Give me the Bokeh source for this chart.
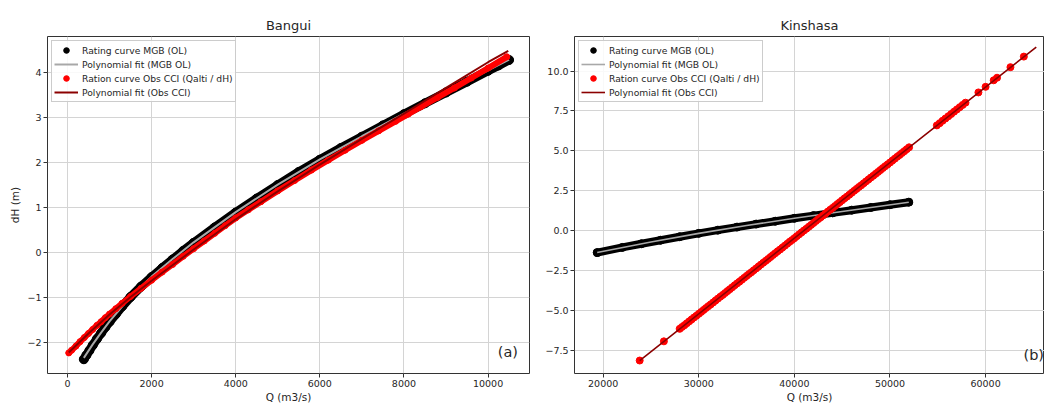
from bokeh.plotting import figure
from bokeh.layouts import row
from bokeh.models import Range1d, FixedTicker, CustomJSTickFormatter, Legend, LegendItem, Label
from bokeh.embed import file_html
from bokeh.resources import INLINE

FONT = "DejaVu Sans"

# ---------------- Bangui (a) ----------------
bangui_mgb_q = [389, 450, 520, 600, 700, 800, 900, 1000, 1150, 1300, 1500, 1750, 2000, 2250,
                2500, 2750, 3000, 3500, 4000, 4500, 5000, 5500, 6000, 6500, 7000, 7500, 8000,
                8500, 9000, 9500, 10000, 10250, 10500]
bangui_mgb_dh = [-2.36, -2.27, -2.17, -2.05, -1.91, -1.78, -1.65, -1.53, -1.36, -1.19, -0.98,
                 -0.75, -0.54, -0.34, -0.15, 0.04, 0.22, 0.56, 0.89, 1.20, 1.50, 1.79, 2.06,
                 2.32, 2.57, 2.82, 3.07, 3.31, 3.55, 3.79, 4.03, 4.15, 4.27]
bangui_mgb_fit_q = [389, 600, 800, 1000, 1500, 2000, 2500, 3000, 4000, 5000, 6000, 7000, 8000,
                    9000, 10000, 10500]
bangui_mgb_fit_dh = [-2.33, -2.03, -1.77, -1.52, -0.97, -0.53, -0.14, 0.23, 0.90, 1.51, 2.07,
                     2.58, 3.08, 3.56, 4.04, 4.28]
bangui_cci_q = [31, 100, 200, 300, 400, 500, 600, 700, 800, 900, 1000, 1150, 1300, 1500, 1750,
                2000, 2250, 2500, 2750, 3000, 3250, 3500, 3750, 4000, 4300, 4600, 5000, 5400,
                5800, 6200, 6600, 7000, 7400, 7800, 8100, 8400, 8800, 9200, 9600, 10000, 10445]
bangui_cci_dh = [-2.22, -2.16, -2.07, -1.97, -1.88, -1.79, -1.70, -1.61, -1.53, -1.44, -1.36,
                 -1.24, -1.12, -0.97, -0.79, -0.61, -0.43, -0.26, -0.08, 0.09, 0.26, 0.43, 0.60,
                 0.77, 0.95, 1.13, 1.37, 1.60, 1.83, 2.05, 2.27, 2.49, 2.70, 2.91, 3.07, 3.23,
                 3.44, 3.65, 3.87, 4.09, 4.34]
bangui_cci_fit_q = [31, 500, 1000, 1500, 2000, 3000, 4000, 5000, 6000, 7000, 8000, 9000, 10000, 10480]
bangui_cci_fit_dh = [-2.21, -1.79, -1.37, -0.98, -0.62, 0.07, 0.74, 1.36, 1.95, 2.52, 3.08, 3.65,
                     4.22, 4.47]

# ---------------- Kinshasa (b) ----------------
kin_mgb_q = [19372, 22000, 24000, 26000, 28000, 30000, 32000, 34000, 36000, 38000, 40000,
             42000, 44000, 46000, 48000, 50000, 51967]
kin_mgb_dh = [-1.35, -1.03, -0.80, -0.58, -0.36, -0.15, 0.05, 0.24, 0.43, 0.61, 0.79, 0.96,
              1.13, 1.30, 1.47, 1.64, 1.80]
kin_mgb_fit_q = [19372, 25000, 30000, 35000, 40000, 45000, 51967]
kin_mgb_fit_dh = [-1.35, -0.69, -0.15, 0.34, 0.79, 1.22, 1.80]
kin_cci_q = [23820, 26350,
             28000, 28250, 28500, 28750, 29000, 29250, 29500, 29750, 30000, 30250, 30500, 30750,
             31000, 31250, 31500, 31750, 32000, 32250, 32500, 32750, 33000, 33250, 33500, 33750,
             34000, 34250, 34500, 34750, 35000, 35250, 35500, 35750, 36000, 36250, 36500, 36750,
             37000, 37250, 37500, 37750, 38000, 38250, 38500, 38750, 39000, 39250, 39500, 39750,
             40000, 40250, 40500, 40750, 41000, 41250, 41500, 41750, 42000, 42250, 42500, 42750,
             43000, 43250, 43500, 43750, 44000, 44250, 44500, 44750, 45000, 45250, 45500, 45750,
             46000, 46250, 46500, 46750, 47000, 47250, 47500, 47750, 48000, 48250, 48500, 48750,
             49000, 49250, 49500, 49750, 50000, 50250, 50500, 50750, 51000, 51250, 51500, 51750,
             52000,
             54900, 55200, 55500, 55800, 56100, 56400, 56700, 57000, 57300, 57600, 57900,
             59250, 60000, 60850, 61200, 62600, 64000]
kin_cci_dh = [-8.10, -6.90,
              -6.12, -6.00, -5.89, -5.77, -5.65, -5.53, -5.41, -5.30, -5.18, -5.06, -4.94, -4.82,
              -4.70, -4.59, -4.47, -4.35, -4.23, -4.11, -4.00, -3.88, -3.76, -3.64, -3.52, -3.40,
              -3.28, -3.17, -3.05, -2.93, -2.81, -2.69, -2.58, -2.46, -2.34, -2.22, -2.10, -1.98,
              -1.87, -1.75, -1.63, -1.51, -1.39, -1.27, -1.16, -1.04, -0.92, -0.80, -0.68, -0.57,
              -0.45, -0.33, -0.21, -0.09, 0.03, 0.14, 0.26, 0.38, 0.50, 0.62, 0.74, 0.85,
              0.97, 1.09, 1.21, 1.33, 1.44, 1.56, 1.68, 1.80, 1.92, 2.04, 2.15, 2.27,
              2.39, 2.51, 2.63, 2.75, 2.86, 2.98, 3.10, 3.22, 3.34, 3.45, 3.57, 3.69,
              3.81, 3.93, 4.05, 4.16, 4.28, 4.40, 4.52, 4.64, 4.75, 4.87, 4.99, 5.11,
              5.23,
              6.60, 6.74, 6.89, 7.03, 7.17, 7.31, 7.46, 7.60, 7.74, 7.88, 8.02,
              8.66, 9.01, 9.42, 9.58, 10.24, 10.90]
kin_cci_fit_q = [23820, 44000, 65300]
kin_cci_fit_dh = [-8.10, 1.44, 11.50]

# ticks
xticks_a = [0, 2000, 4000, 6000, 8000, 10000]
yticks_a = [-2, -1, 0, 1, 2, 3, 4]
xticks_b = [20000, 30000, 40000, 50000, 60000]
yticks_b = [-7.5, -5.0, -2.5, 0.0, 2.5, 5.0, 7.5, 10.0]

labels = ["Rating curve MGB (OL)", "Polynomial fit (MGB OL)",
          "Ration curve Obs CCI (Qalti / dH)", "Polynomial fit (Obs CCI)"]

FMT_INT = "return Math.round(tick).toString().replace('-', '\\u2212');"
FMT_ONE = "return tick.toFixed(1).replace('-', '\\u2212');"


def style(p, xt, yt, yfmt, ylabel):
    p.xaxis.ticker = FixedTicker(ticks=xt)
    p.yaxis.ticker = FixedTicker(ticks=yt)
    p.xaxis.formatter = CustomJSTickFormatter(code="return Math.round(tick).toString();")
    p.yaxis.formatter = CustomJSTickFormatter(code=yfmt)
    for ax in (p.xaxis[0], p.yaxis[0]):
        ax.axis_line_color = None
        ax.major_tick_line_color = "#333333"
        ax.major_tick_out = 4
        ax.major_tick_in = 0
        ax.minor_tick_line_color = None
        ax.major_label_text_font = FONT
        ax.major_label_text_font_size = "9.5px"
        ax.major_label_text_color = "#262626"
        ax.major_label_standoff = 2
        ax.axis_label_text_font = FONT
        ax.axis_label_text_font_size = "10.5px"
        ax.axis_label_text_font_style = "normal"
        ax.axis_label_text_color = "#262626"
    p.xaxis.axis_label = "Q (m3/s)"
    p.xaxis.axis_label_standoff = 1
    if ylabel:
        p.yaxis.axis_label = ylabel
        p.yaxis.axis_label_standoff = 3
    p.grid.grid_line_color = "#d4d4d4"
    p.grid.grid_line_width = 1
    p.outline_line_color = "#333333"
    p.outline_line_width = 1
    p.outline_line_alpha = 1
    p.title.text_font = FONT
    p.title.text_font_size = "13px"
    p.title.text_font_style = "normal"
    p.title.text_color = "#262626"
    p.title.align = "center"
    p.title.standoff = 8


def add_series(p, mq, mdh, mfq, mfdh, cq, cdh, cfq, cfdh, bw, rw, fitw, red_band):
    p.line(mq, mdh, line_width=bw, color="black", line_cap="round", line_join="round")
    r1 = p.scatter(mq, mdh, size=bw, color="black")
    r2 = p.line(mfq, mfdh, line_width=fitw, color="#a8a8a8")
    if red_band:
        p.line(cq, cdh, line_width=rw, color="red", line_cap="round", line_join="round")
    r3 = p.scatter(cq, cdh, size=rw, color="red")
    r4 = p.line(cfq, cfdh, line_width=fitw, color="#8b0000")
    items = [LegendItem(label=l, renderers=[r]) for l, r in zip(labels, [r1, r2, r3, r4])]
    leg = Legend(items=items, location="top_left", margin=4, padding=2, spacing=0,
                 glyph_width=24, glyph_height=14, label_height=14, label_standoff=4,
                 label_text_font=FONT, label_text_font_size="9.2px", label_text_color="#262626",
                 border_line_color="#cccccc", border_line_width=1, border_line_alpha=1,
                 background_fill_color="white", background_fill_alpha=0.85)
    p.add_layout(leg)


# left figure
p1 = figure(width=535, height=405, title="Bangui", output_backend="svg", toolbar_location=None,
            x_range=Range1d(-475, 10985), y_range=Range1d(-2.676, 4.79),
            min_border_left=47, min_border_right=6, min_border_top=36, min_border_bottom=30)
style(p1, xticks_a, yticks_a, FMT_INT, "dH (m)")
add_series(p1, bangui_mgb_q, bangui_mgb_dh, bangui_mgb_fit_q, bangui_mgb_fit_dh,
           bangui_cci_q, bangui_cci_dh, bangui_cci_fit_q, bangui_cci_fit_dh, 9, 6, 2, True)
p1.add_layout(Label(x=10711, y=-2.21, text="(a)", text_font=FONT, text_font_size="14.5px",
                    text_align="right", text_baseline="middle", text_color="#262626"))

# right figure
p2 = figure(width=509, height=405, title="Kinshasa", output_backend="svg", toolbar_location=None,
            x_range=Range1d(17000, 66162), y_range=Range1d(-8.911, 12.157),
            min_border_left=39, min_border_right=0, min_border_top=36, min_border_bottom=30)
style(p2, xticks_b, yticks_b, FMT_ONE, None)
add_series(p2, kin_mgb_q, kin_mgb_dh, kin_mgb_fit_q, kin_mgb_fit_dh,
           kin_cci_q, kin_cci_dh, kin_cci_fit_q, kin_cci_fit_dh, 8, 7, 1.6, False)
p2.add_layout(Label(x=63965, y=-7.73, text="(b)", text_font=FONT, text_font_size="14.5px",
                    text_align="left", text_baseline="middle", text_color="#262626"))

layout = row(p1, p2)
open("out.html", "w").write(file_html(layout, INLINE))
